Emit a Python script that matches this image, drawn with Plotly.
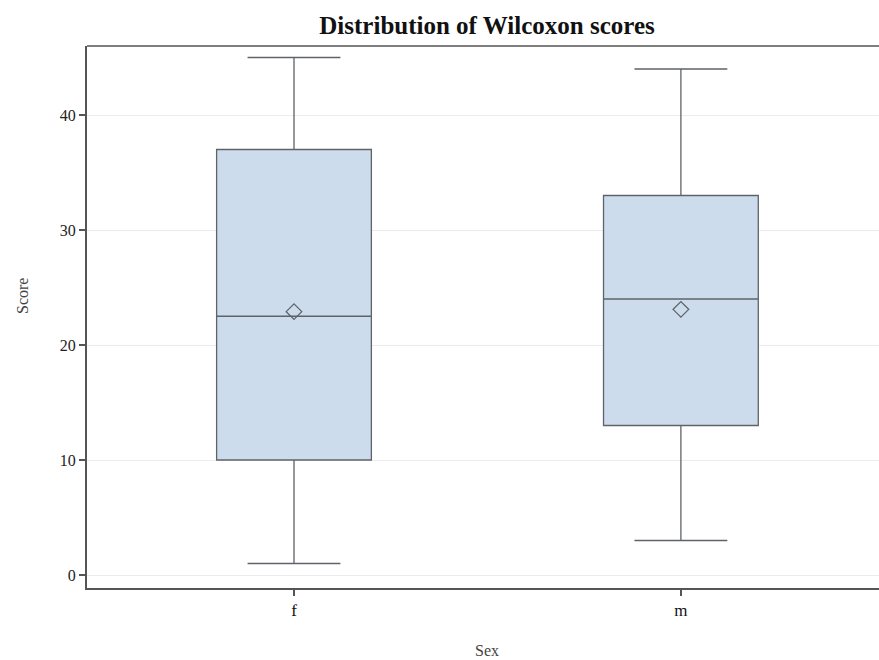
import plotly.graph_objects as go

categories = ["f", "m"]
q1 = [10, 13]
median = [22.5, 24]
q3 = [37, 33]
lower = [1, 3]
upper = [45, 44]
means = [22.9, 23.1]

FONT = "Liberation Serif"
LINE = "#5f6368"
FILL = "#cddcec"

fig = go.Figure()
fig.add_trace(go.Box(
    x=categories, q1=q1, median=median, q3=q3,
    lowerfence=lower, upperfence=upper,
    fillcolor=FILL, line=dict(color=LINE, width=1.3),
    width=0.4, whiskerwidth=0.6, boxpoints=False, showlegend=False,
    hoverinfo="skip",
))
fig.add_trace(go.Scatter(
    x=categories, y=means, mode="markers",
    marker=dict(symbol="diamond-open", size=12, color=LINE, line=dict(width=1.3, color=LINE)),
    showlegend=False, hoverinfo="skip",
))

PW, PH = 879 - 87, 660 - 46 - 72

fig.update_layout(
    width=879, height=660,
    margin=dict(l=87, r=0, t=46, b=72, autoexpand=False),
    paper_bgcolor="white", plot_bgcolor="white",
    font=dict(family=FONT, size=16, color="#222"),
    title=dict(text="<b>Distribution of Wilcoxon scores</b>", x=487 / 879, xanchor="center",
               y=1 - 25/660, yanchor="middle", font=dict(family=FONT, size=25, color="#111")),
    xaxis=dict(
        type="category", range=[-0.535, 1.512], showgrid=False, zeroline=False,
        showline=True, linecolor="#555", linewidth=2, automargin=False,
        ticks="outside", ticklen=6, tickwidth=2, tickcolor="#555",
        tickfont=dict(size=17, family=FONT, color="#111"),
    ),
    yaxis=dict(
        range=[-1.13, 46], tickvals=[0, 10, 20, 30, 40], showgrid=True,
        gridcolor="#ececec", gridwidth=1, zeroline=False, automargin=False,
        showline=True, linecolor="#555", linewidth=2,
        ticks="outside", ticklen=6, tickwidth=2, tickcolor="#555",
        tickfont=dict(size=16, family=FONT, color="#222"),
    ),
    shapes=[dict(type="line", xref="paper", yref="paper", x0=0, x1=1, y0=1, y1=1,
                 line=dict(color="#555", width=1.5))],
)
fig.add_annotation(text="Score", textangle=-90, xref="paper", yref="paper",
                   x=(22 - 87) / PW, y=(588 - 296) / PH, showarrow=False,
                   xanchor="center", yanchor="middle",
                   font=dict(size=16, family=FONT, color="#444"))
fig.add_annotation(text="Sex", xref="paper", yref="paper",
                   x=(487 - 87) / PW, y=(588 - 650) / PH, showarrow=False,
                   xanchor="center", yanchor="middle",
                   font=dict(size=16, family=FONT, color="#444"))

fig.write_html("out.html", config={"displayModeBar": False},
               post_script="document.body.style.margin='0';document.body.style.overflow='hidden';")
